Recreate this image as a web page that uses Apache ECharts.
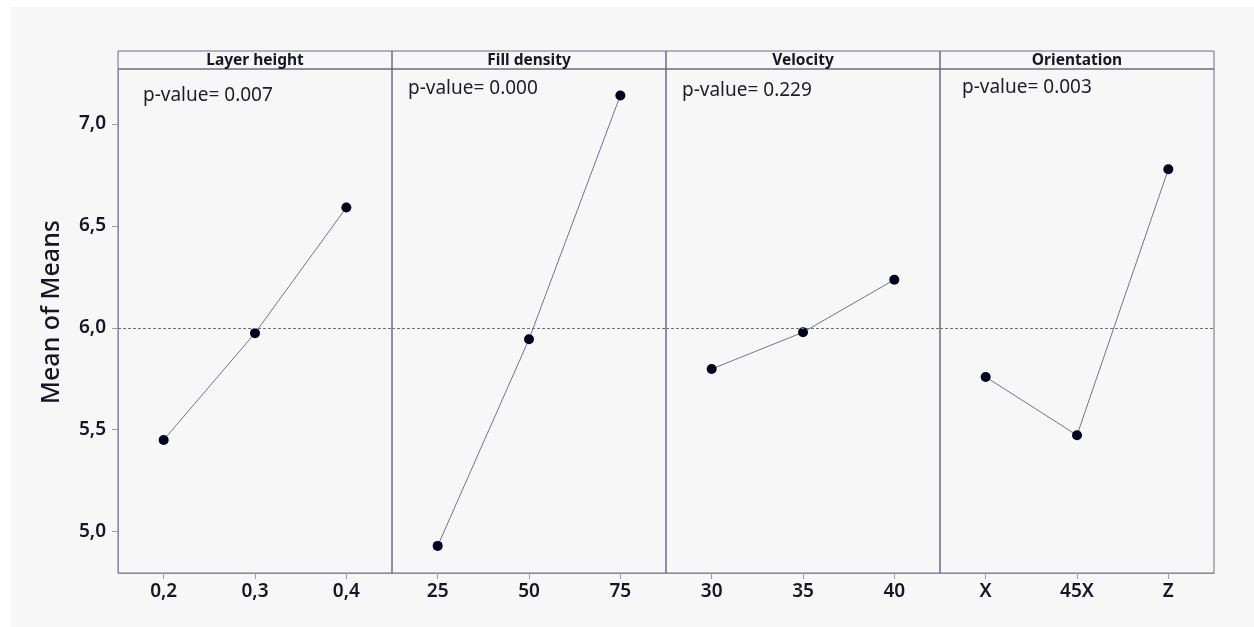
<!DOCTYPE html>
<html>
<head>
<meta charset="utf-8">
<script src="https://cdn.jsdelivr.net/npm/echarts@6/dist/echarts.min.js"></script>
<style>
html,body{margin:0;padding:0;background:#f7f7f7;overflow:hidden;}
#chart{width:1254px;height:627px;}
</style>
</head>
<body>
<div id="chart"></div>
<script>
// ---- data ----
const factorNames = ['Layer height', 'Fill density', 'Velocity', 'Orientation'];
const pValues = ['0.007', '0.000', '0.229', '0.003'];
const layerCats = ['0,2', '0,3', '0,4'];
const layerMeans = [5.45, 5.974, 6.59];
const fillCats = ['25', '50', '75'];
const fillMeans = [4.93, 5.944, 7.14];
const velCats = ['30', '35', '40'];
const velMeans = [5.798, 5.978, 6.236];
const oriCats = ['X', '45X', 'Z'];
const oriMeans = [5.759, 5.473, 6.778];
const grandMean = 6.0;
const yTicks = [5.0, 5.5, 6.0, 6.5, 7.0];
const yTitle = 'Mean of Means';

// ---- layout ----
const W = 1254, H = 627;
const plotLeft = 118, plotRight = 1214;
const headerTop = 51, dataTop = 69, dataBottom = 573;
const panelW = (plotRight - plotLeft) / 4;
const yMin = 4.797, yMax = 7.27;
const FONT = 'Noto Sans';
const borderColor = '#6c6c82';
const textColor = '#161628';

const cats = [layerCats, fillCats, velCats, oriCats];
const means = [layerMeans, fillMeans, velMeans, oriMeans];
const pOffsets = [[25, 96], [16, 89], [16, 91], [22, 88]];

const grids = [], xAxes = [], yAxes = [], series = [], graphics = [];

graphics.push({type: 'rect', left: 0, top: 0, shape: {width: 11, height: H}, style: {fill: '#ffffff'}, silent: true});
graphics.push({type: 'rect', left: 0, top: 0, shape: {width: W, height: 7}, style: {fill: '#ffffff'}, silent: true});

for (let i = 0; i < 4; i++) {
  const left = plotLeft + i * panelW;
  grids.push({
    left: left, top: dataTop, width: panelW, height: dataBottom - dataTop,
    show: true, borderColor: borderColor, borderWidth: 1, backgroundColor: 'transparent',
    containLabel: false
  });
  xAxes.push({
    type: 'category', gridIndex: i, data: cats[i], boundaryGap: true,
    axisLine: {show: true, lineStyle: {color: '#8a8a9c', width: 1}},
    axisTick: {show: true, alignWithLabel: true, length: 6, lineStyle: {color: '#9a9aa8'}},
    axisLabel: {fontFamily: FONT, fontSize: 19, fontWeight: 600, color: textColor, margin: 9},
    splitLine: {show: false}
  });
  yAxes.push({
    type: 'value', gridIndex: i, min: yMin, max: yMax, show: i === 0,
    axisLine: {show: true, lineStyle: {color: '#8a8a9c'}},
    axisTick: {show: true, length: 6, customValues: yTicks, lineStyle: {color: '#9a9aa8'}},
    axisLabel: {
      customValues: yTicks, fontFamily: FONT, fontSize: 19, fontWeight: 600, color: textColor, margin: 12,
      formatter: v => v.toFixed(1).replace('.', ',')
    },
    splitLine: {show: false}
  });
  series.push({
    type: 'line', xAxisIndex: i, yAxisIndex: i, data: means[i],
    symbol: 'circle', symbolSize: 10,
    itemStyle: {color: '#00001e'},
    lineStyle: {color: '#74748a', width: 1},
    markLine: {
      silent: true, symbol: 'none', animation: false,
      label: {show: false},
      lineStyle: {type: [3, 2], color: '#707078', width: 1},
      data: [{yAxis: grandMean}]
    },
    z: 3
  });
  graphics.push({
    type: 'rect', silent: true,
    shape: {x: left, y: headerTop, width: panelW, height: dataTop - headerTop},
    style: {fill: 'transparent', stroke: borderColor, lineWidth: 1}
  });
  graphics.push({
    type: 'text', silent: true,
    x: left + panelW / 2, y: (headerTop + dataTop) / 2 + 0.5,
    style: {text: factorNames[i], fontFamily: FONT, fontSize: 15.5, fontWeight: 'bold', fill: textColor, align: 'center', verticalAlign: 'middle'}
  });
  graphics.push({
    type: 'text', silent: true,
    x: left + pOffsets[i][0], y: pOffsets[i][1],
    style: {text: 'p-value= ' + pValues[i], fontFamily: FONT, fontSize: 19, fill: '#1c1c2c', align: 'left', verticalAlign: 'middle'}
  });
}

graphics.push({
  type: 'text', silent: true,
  x: 52, y: 312, rotation: Math.PI / 2,
  style: {text: yTitle, fontFamily: FONT, fontSize: 25, fontWeight: 500, fill: '#151525', align: 'center', verticalAlign: 'middle'}
});

const chart = echarts.init(document.getElementById('chart'), null, {renderer: 'canvas'});
chart.setOption({
  animation: false,
  backgroundColor: '#f7f7f7',
  grid: grids,
  xAxis: xAxes,
  yAxis: yAxes,
  series: series,
  graphic: graphics
});
</script>
</body>
</html>
